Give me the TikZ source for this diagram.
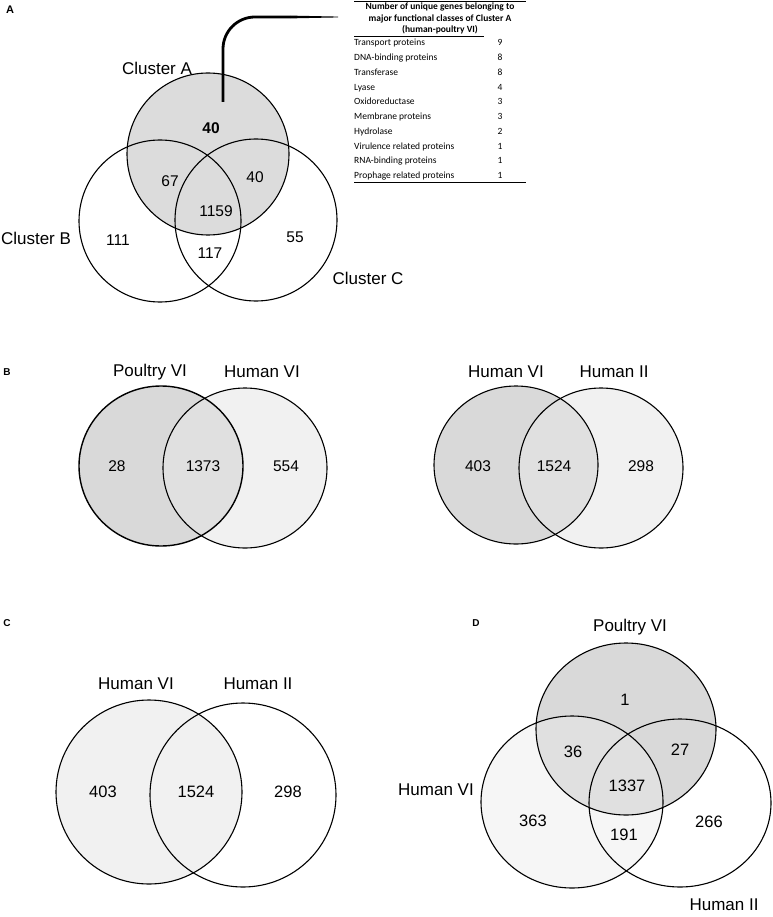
\documentclass[tikz,border=0pt]{standalone}
\usepackage{fontspec}
\setmainfont{Liberation Sans}
\newfontfamily\tabfont{Carlito}
\definecolor{gDark}{HTML}{D9D9D9}
\definecolor{gMid}{HTML}{E0E0E0}
\definecolor{gLight}{HTML}{F1F1F1}
\definecolor{gVLight}{HTML}{F6F6F6}
\definecolor{gA}{HTML}{DCDCDC}
\begin{document}
\begin{tikzpicture}[x=1pt,y=-1pt,
  setline/.style={draw=black,line width=1.1pt},
  lbl/.style={font=\fontsize{17}{20}\selectfont,inner sep=0pt},
  num/.style={font=\fontsize{15.5}{18}\selectfont,inner sep=0pt},
  numC/.style={font=\fontsize{16.5}{19}\selectfont,inner sep=0pt},
  panel/.style={font=\fontsize{10}{12}\selectfont\bfseries,inner sep=0pt},
  tab/.style={font=\tabfont\fontsize{9.5}{11.5}\selectfont,inner sep=0pt},
  rule/.style={draw=black,line width=0.8pt},
]
\fill[white] (0,0) rectangle (772,917);
\useasboundingbox (0,0) rectangle (772,917);

% ---------------- Panel A ----------------
\node[panel,font=\fontsize{11}{13}\selectfont\bfseries] (pA) at (10,10) {A};
\fill[gA] (208,154) circle (81pt);
\draw[setline] (208,154) circle (81pt);
\draw[setline] (160,221) circle (81pt);
\draw[setline] (256,220) circle (81pt);
\node[lbl] (cA) at (157,68) {Cluster A};
\node[lbl] (cB) at (36,238) {Cluster B};
\node[lbl] (cC) at (368,278) {Cluster C};
\node[num,font=\fontsize{15.5}{18}\selectfont\bfseries] (nA) at (211,128) {40};
\node[num] (nAB) at (170,181) {67};
\node[num] (nAC) at (255,177) {40};
\node[num] (nABC) at (216,211) {1159};
\node[num] (nB) at (118,240) {111};
\node[num] (nBC) at (210,253) {117};
\node[num] (nC) at (295,237) {55};

% callout line
\coordinate (callS) at (223,102);
\coordinate (callM) at (290,17);
\coordinate (callE) at (338,17);
\draw[line width=2.8pt,rounded corners=32pt] (callS) |- (callM);
\fill (290,15.6) -- (338,16.6) -- (338,17.4) -- (290,18.4) -- cycle;

% table
\draw[rule] (354,1) -- (526,1);
\node[tab,font=\tabfont\bfseries\fontsize{9.5}{11.5}\selectfont,align=center] (hdr) at (440,18.5)
  {Number of unique genes belonging to\\major functional classes of Cluster A\\(human-poultry VI)};
\draw[rule] (354,36) -- (484,36);
\foreach \t/\n [count=\i from 0] in {Transport proteins/9,DNA-binding proteins/8,Transferase/8,Lyase/4,Oxidoreductase/3,Membrane proteins/3,Hydrolase/2,Virulence related proteins/1,RNA-binding proteins/1,Prophage related proteins/1}{
  \node[tab,anchor=base west] (row\i) at (354,{46+14.75*\i}) {\t};
  \node[tab,anchor=base] (val\i) at (500,{46+14.75*\i}) {\n};
}
\draw[rule] (354,182) -- (526,182);

% ---------------- Panel B ----------------
\node[panel] (pB) at (7,372) {B};
\fill[gDark] (161,466) ellipse [x radius=82pt,y radius=80pt];
\fill[gLight] (245,468) ellipse [x radius=82pt,y radius=80pt];
\begin{scope}
  \clip (161,466) ellipse [x radius=82pt,y radius=80pt];
  \fill[gMid] (245,468) ellipse [x radius=82pt,y radius=80pt];
\end{scope}
\draw[setline,line width=1.4pt] (161,466) ellipse [x radius=82pt,y radius=80pt];
\draw[setline] (245,468) ellipse [x radius=82pt,y radius=80pt];
\node[lbl] (bl1) at (150,372) {Poultry VI};
\node[lbl] (bl2) at (262,372) {Human VI};
\node[num] (bn1) at (117,466) {28};
\node[num] (bn2) at (203,466) {1373};
\node[num] (bn3) at (286,466) {554};

\fill[gDark] (516,465) ellipse [x radius=82pt,y radius=79pt];
\fill[gLight] (601,468) ellipse [x radius=82pt,y radius=80pt];
\begin{scope}
  \clip (516,465) ellipse [x radius=82pt,y radius=79pt];
  \fill[gMid] (601,468) ellipse [x radius=82pt,y radius=80pt];
\end{scope}
\draw[setline] (516,465) ellipse [x radius=82pt,y radius=79pt];
\draw[setline] (601,468) ellipse [x radius=82pt,y radius=80pt];
\node[lbl] (br1) at (506,372) {Human VI};
\node[lbl] (br2) at (614,372) {Human II};
\node[num] (bm1) at (478,466) {403};
\node[num] (bm2) at (554,466) {1524};
\node[num] (bm3) at (641,466) {298};

% ---------------- Panel C ----------------
\node[panel] (pC) at (7,623) {C};
\fill[gLight] (149,792) ellipse [x radius=93pt,y radius=92pt];
\draw[setline] (149,792) ellipse [x radius=93pt,y radius=92pt];
\draw[setline] (243,795) ellipse [x radius=93pt,y radius=92pt];
\node[lbl] (cl1) at (136,684) {Human VI};
\node[lbl] (cl2) at (258,684) {Human II};
\node[numC] (cn1) at (103,792) {403};
\node[numC] (cn2) at (196,792) {1524};
\node[numC] (cn3) at (288,792) {298};

% ---------------- Panel D ----------------
\node[panel] (pD) at (476,623) {D};
\fill[gVLight] (572,802) ellipse [x radius=91pt,y radius=86pt];
\fill[gDark] (626,729) ellipse [x radius=90pt,y radius=86pt];
\begin{scope}
  \clip (626,729) ellipse [x radius=90pt,y radius=86pt];
  \fill[gMid] (572,802) ellipse [x radius=91pt,y radius=86pt];
\end{scope}
\draw[setline] (626,729) ellipse [x radius=90pt,y radius=86pt];
\draw[setline] (572,802) ellipse [x radius=91pt,y radius=86pt];
\draw[setline] (680,803) ellipse [x radius=91pt,y radius=84pt];
\node[lbl] (dl1) at (630,627) {Poultry VI};
\node[lbl] (dl2) at (436,790) {Human VI};
\node[lbl] (dl3) at (724,905) {Human II};
\node[numC] (dn1) at (625,700) {1};
\node[numC] (dn2) at (573,752) {36};
\node[numC] (dn3) at (680,750) {27};
\node[numC] (dn4) at (627,786) {1337};
\node[numC] (dn5) at (533,821) {363};
\node[numC] (dn6) at (624,835) {191};
\node[numC] (dn7) at (709,822) {266};
\end{tikzpicture}
\end{document}
